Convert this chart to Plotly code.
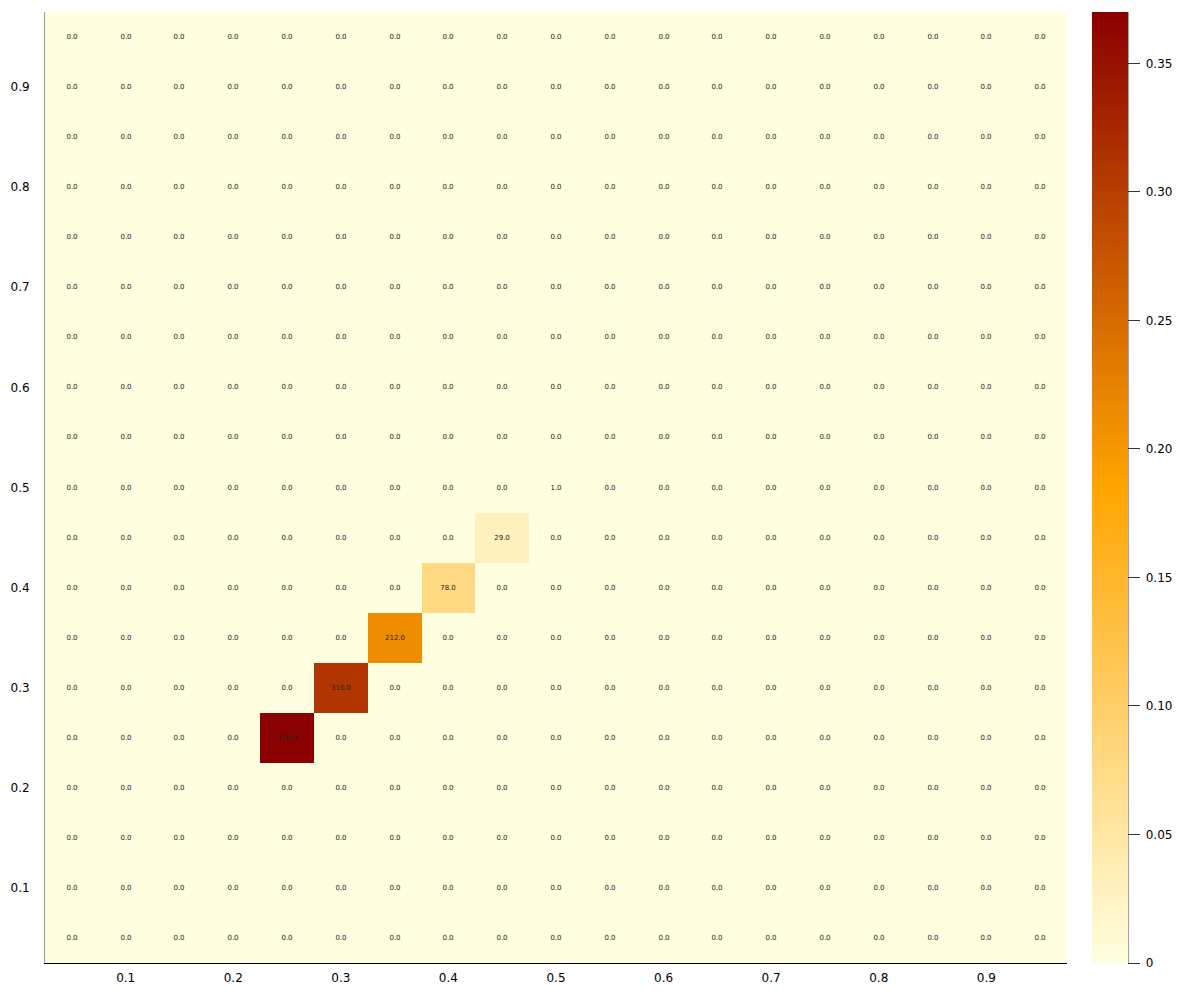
import numpy as np
import plotly.graph_objects as go

# cell centres
x_centers = [round(0.05 * i, 2) for i in range(1, 20)]
y_centers = [round(0.05 * i, 2) for i in range(1, 20)]

# non-empty cells (count of 1000 samples)
hit_x = [0.25, 0.30, 0.35, 0.40, 0.45, 0.50]
hit_y = [0.25, 0.30, 0.35, 0.40, 0.45, 0.50]
hit_count = [370, 310, 212, 78, 29, 1]
total = 1000

cb_ticks = [0, 0.05, 0.10, 0.15, 0.20, 0.25, 0.30, 0.35]
cb_labels = ["0", "0.05", "0.10", "0.15", "0.20", "0.25", "0.30", "0.35"]
axis_ticks = [0.1, 0.2, 0.3, 0.4, 0.5, 0.6, 0.7, 0.8, 0.9]

counts = np.zeros((len(y_centers), len(x_centers)))
for hx, hy, c in zip(hit_x, hit_y, hit_count):
    counts[y_centers.index(hy), x_centers.index(hx)] = c
freq = counts / total
labels = [["%.1f" % v for v in row] for row in counts]

fig = go.Figure(go.Heatmap(
    x=x_centers, y=y_centers, z=freq,
    text=labels, texttemplate="%{text}",
    textfont=dict(size=7, color="#222222", family="DejaVu Sans"),
    zmin=0, zmax=0.37,
    colorscale=[[0, "#FFFFE0"], [0.5, "#FFA500"], [1, "#8B0000"]],
    hoverinfo="skip",
    colorbar=dict(
        x=1.0245, xanchor="left", y=0, yanchor="bottom", len=1,
        thickness=36, outlinewidth=0, xpad=0, ypad=0,
        tickvals=cb_ticks, ticktext=["\u00a0" + t for t in cb_labels],
        ticks="outside", ticklen=12, tickcolor="#333333",
        tickfont=dict(size=12, color="black"),
    ),
))

fig.add_shape(type="line", xref="paper", yref="paper",
              x0=1.0597, x1=1.0597, y0=0, y1=1,
              line=dict(color="#444444", width=1))

fig.update_xaxes(range=[0.025, 0.975], tickvals=axis_ticks,
                 ticktext=[str(t) for t in axis_ticks],
                 showgrid=False, zeroline=False, showline=True,
                 linecolor="black", linewidth=1, ticks="",
                 ticklabelstandoff=4,
                 tickfont=dict(size=12, color="black"))
fig.update_yaxes(range=[0.025, 0.975], tickvals=axis_ticks,
                 ticktext=[str(t) for t in axis_ticks],
                 showgrid=False, zeroline=False, showline=True,
                 linecolor="#999999", linewidth=1, ticks="",
                 ticklabelstandoff=12,
                 tickfont=dict(size=12, color="black"))

# page body adds an 8px offset, so the figure is 8px smaller on each side
fig.update_layout(
    width=1192, height=992,
    margin=dict(l=37, r=133, t=4, b=37),
    plot_bgcolor="white", paper_bgcolor="white",
    font=dict(family="DejaVu Sans"),
)

fig.write_html("out.html")
